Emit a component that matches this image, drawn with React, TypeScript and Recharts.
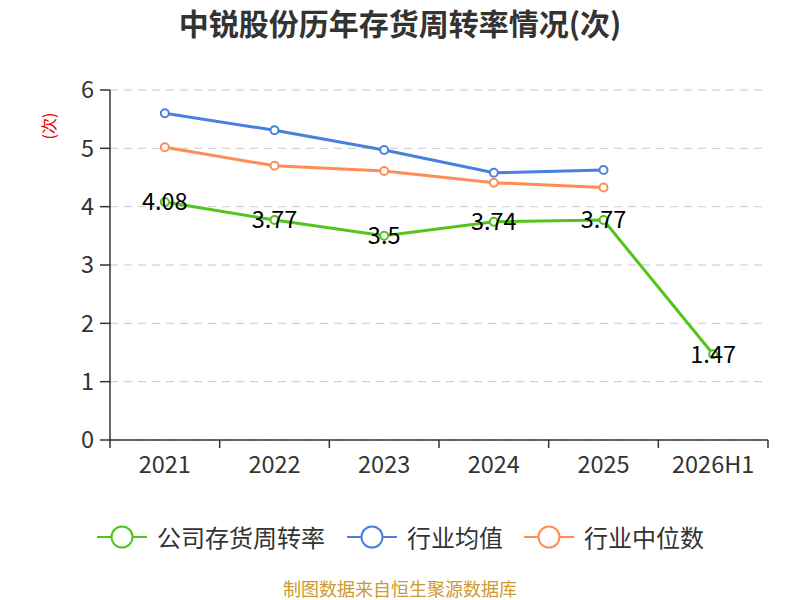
import React from 'react';
import { LineChart, Line, XAxis, YAxis, CartesianGrid, LabelList } from 'recharts';

const categories = ['2021', '2022', '2023', '2024', '2025', '2026H1'];
const companyValues = [4.08, 3.77, 3.5, 3.74, 3.77, 1.47];
const industryAvg: (number | null)[] = [5.6, 5.31, 4.97, 4.58, 4.63, null];
const industryMedian: (number | null)[] = [5.02, 4.7, 4.61, 4.41, 4.33, null];
const yTicks = [0, 1, 2, 3, 4, 5, 6];

const seriesNames = ['公司存货周转率', '行业均值', '行业中位数'];
const seriesColors = ['#52c41a', '#4a7fe0', '#ff8c55'];

const data = categories.map((c, i) => ({
  x: i + 0.5,
  name: c,
  company: companyValues[i],
  avg: industryAvg[i],
  median: industryMedian[i],
}));

const xTicks: number[] = [];
for (let i = 0; i <= categories.length * 2; i++) xTicks.push(i / 2);

const FONT = '"Noto Sans CJK SC", "Noto Sans", sans-serif';
const X_TICK_SIZE = 8;
const X_TICK_MARGIN = 4;

const XTick = (props: any) => {
  const { x, y, payload } = props;
  const v = payload.value as number;
  if (Number.isInteger(v)) {
    return (
      <line
        x1={x}
        x2={x}
        y1={y - X_TICK_MARGIN - X_TICK_SIZE}
        y2={y - X_TICK_MARGIN}
        stroke="#333"
        strokeWidth={1.5}
      />
    );
  }
  const idx = Math.floor(v);
  return (
    <text x={x} y={y} dy={21} textAnchor="middle" fontSize={23.5} fill="#333" fontFamily={FONT}>
      {categories[idx]}
    </text>
  );
};

const legendLeft = [97, 347, 524];

export default function App() {
  return (
    <div style={{ position: 'absolute', left: 0, top: 0, width: 800, height: 600, background: '#fff', fontFamily: FONT }}>
      <div
        style={{
          position: 'absolute',
          left: 0,
          top: 3,
          width: 800,
          textAlign: 'center',
          fontSize: 30,
          fontWeight: 'bold',
          color: '#333',
          lineHeight: '38px',
        }}
      >
        中锐股份历年存货周转率情况(次)
      </div>
      <div
        style={{
          position: 'absolute',
          left: 48,
          top: 126,
          transform: 'translate(-50%, -50%) rotate(-90deg)',
          color: '#e00',
          fontSize: 16,
          whiteSpace: 'nowrap',
          lineHeight: '18px',
        }}
      >
        (次)
      </div>
      <div style={{ position: 'absolute', left: 0, top: 0 }}>
        <LineChart width={800} height={600} data={data} margin={{ top: 90, right: 32, left: 50, bottom: 130 }}>
          <CartesianGrid vertical={false} stroke="#c8c8c8" strokeDasharray="8 6" />
          <XAxis
            dataKey="x"
            type="number"
            domain={[0, categories.length]}
            ticks={xTicks}
            interval={0}
            tickLine={false}
            tickSize={X_TICK_SIZE}
            tickMargin={X_TICK_MARGIN}
            tick={<XTick />}
            axisLine={{ stroke: '#333', strokeWidth: 1.5 }}
            height={30}
          />
          <YAxis
            type="number"
            domain={[0, 6]}
            ticks={yTicks}
            interval={0}
            width={60}
            tickSize={10}
            tickMargin={6}
            tick={{ fontSize: 23.5, fill: '#333', fontFamily: FONT }}
            tickLine={{ stroke: '#333', strokeWidth: 1.5 }}
            axisLine={{ stroke: '#333', strokeWidth: 1.5 }}
          />
          <Line
            dataKey="avg"
            stroke={seriesColors[1]}
            strokeWidth={3}
            dot={{ r: 4, fill: '#fff', stroke: seriesColors[1], strokeWidth: 2 }}
            isAnimationActive={false}
          />
          <Line
            dataKey="median"
            stroke={seriesColors[2]}
            strokeWidth={3}
            dot={{ r: 4, fill: '#fff', stroke: seriesColors[2], strokeWidth: 2 }}
            isAnimationActive={false}
          />
          <Line
            dataKey="company"
            stroke={seriesColors[0]}
            strokeWidth={3}
            dot={{ r: 4, fill: '#fff', stroke: seriesColors[0], strokeWidth: 2 }}
            isAnimationActive={false}
          >
            <LabelList dataKey="company" position="center" fontSize={23.5} fill="#000" fontFamily={FONT} />
          </Line>
        </LineChart>
      </div>
      {seriesNames.map((n, i) => (
        <div
          key={n}
          style={{
            position: 'absolute',
            left: legendLeft[i],
            top: 537 - 15,
            height: 30,
            display: 'flex',
            alignItems: 'center',
            whiteSpace: 'nowrap',
          }}
        >
          <svg width={50} height={30}>
            <line x1={0} x2={50} y1={15} y2={15} stroke={seriesColors[i]} strokeWidth={2} />
            <circle cx={25} cy={15} r={10.5} fill="#fff" stroke={seriesColors[i]} strokeWidth={2} />
          </svg>
          <span style={{ marginLeft: 10, fontSize: 24, color: '#333', lineHeight: '30px' }}>{n}</span>
        </div>
      ))}
      <div
        style={{
          position: 'absolute',
          left: 0,
          top: 578,
          width: 800,
          textAlign: 'center',
          fontSize: 18,
          color: '#cc9a2e',
          lineHeight: '20px',
        }}
      >
        制图数据来自恒生聚源数据库
      </div>
    </div>
  );
}
